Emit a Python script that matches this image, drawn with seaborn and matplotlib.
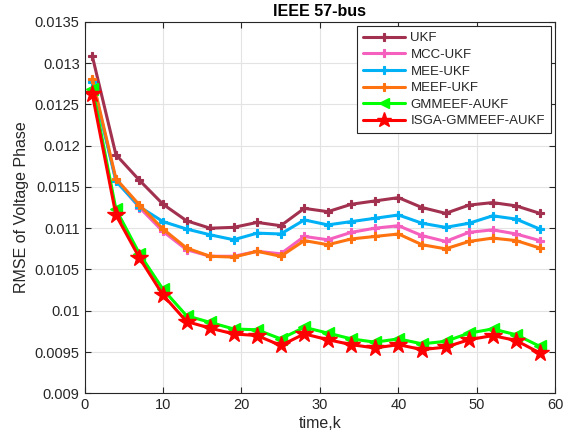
import matplotlib
matplotlib.use("Agg")
import matplotlib.pyplot as plt
import seaborn as sns
import pandas as pd

time_k = [1, 4, 7, 10, 13, 16, 19, 22, 25, 28, 31, 34, 37, 40, 43, 46, 49, 52, 55, 58]

ukf = [0.01308, 0.01189, 0.01158, 0.01129, 0.01109, 0.01100, 0.01101, 0.01107, 0.01103, 0.01124,
       0.01120, 0.01129, 0.01133, 0.01137, 0.01125, 0.01118, 0.01128, 0.01131, 0.01127, 0.01118]
mcc_ukf = [0.01279, 0.01158, 0.01125, 0.01096, 0.01074, 0.01066, 0.01066, 0.01072, 0.01069, 0.01090,
           0.01086, 0.01095, 0.01100, 0.01103, 0.01091, 0.01084, 0.01095, 0.01098, 0.01093, 0.01085]
mee_ukf = [0.01277, 0.01157, 0.01126, 0.01108, 0.01099, 0.01092, 0.01086, 0.01094, 0.01093, 0.01110,
           0.01104, 0.01108, 0.01112, 0.01116, 0.01106, 0.01101, 0.01106, 0.01115, 0.01111, 0.01099]
meef_ukf = [0.01281, 0.01160, 0.01128, 0.01099, 0.01076, 0.01066, 0.01065, 0.01072, 0.01066, 0.01085,
            0.01080, 0.01087, 0.01090, 0.01093, 0.01080, 0.01075, 0.01084, 0.01088, 0.01085, 0.01076]
gmmeef_aukf = [0.01269, 0.01123, 0.01069, 0.01026, 0.00994, 0.00986, 0.00978, 0.00977, 0.00966, 0.00980,
               0.00973, 0.00966, 0.00962, 0.00966, 0.00960, 0.00963, 0.00973, 0.00978, 0.00971, 0.00957]
isga_gmmeef_aukf = [0.01262, 0.01116, 0.01064, 0.01019, 0.00987, 0.00979, 0.00972, 0.00970, 0.00958, 0.00972,
                    0.00965, 0.00959, 0.00955, 0.00959, 0.00953, 0.00956, 0.00965, 0.00970, 0.00964, 0.00949]

labels = ["UKF", "MCC-UKF", "MEE-UKF", "MEEF-UKF", "GMMEEF-AUKF", "ISGA-GMMEEF-AUKF"]
series = [ukf, mcc_ukf, mee_ukf, meef_ukf, gmmeef_aukf, isga_gmmeef_aukf]
colors = ["#A2304F", "#F55FBE", "#00B2F5", "#FF7210", "#00FF00", "#FF0000"]
markers = ["P", "P", "P", "P", "<", "*"]
msizes = [6, 6, 6, 6, 9, 13]

xticks = [0, 10, 20, 30, 40, 50, 60]
yticks = [0.009, 0.0095, 0.01, 0.0105, 0.011, 0.0115, 0.012, 0.0125, 0.013, 0.0135]
ytick_labels = ["0.009", "0.0095", "0.01", "0.0105", "0.011", "0.0115", "0.012", "0.0125", "0.013", "0.0135"]

sns.set_theme(style="whitegrid")
plt.rcParams['font.family'] = ['Liberation Sans', 'DejaVu Sans']

fig = plt.figure(figsize=(5.75, 4.43), dpi=100)
ax = fig.add_axes([0.147, 0.112, 0.819, 0.839])

for lab, vals, c, m, ms in zip(labels, series, colors, markers, msizes):
    df = pd.DataFrame({"time": time_k, "rmse": vals})
    sns.lineplot(data=df, x="time", y="rmse", ax=ax, color=c, marker=m, markersize=ms,
                 markeredgecolor=c, markerfacecolor=c, markeredgewidth=0.8 if m == "P" else 1,
                 linewidth=2.2, label=lab)

ax.set_xlim(0, 60)
ax.set_ylim(0.009, 0.0135)
ax.set_xticks(xticks)
ax.set_xticklabels([str(t) for t in xticks])
ax.set_yticks(yticks)
ax.set_yticklabels(ytick_labels)
ax.tick_params(direction="in", length=4, width=0.8, colors="#262626", labelsize=10.5,
               top=True, right=True, bottom=True, left=True, labelcolor="#262626")
for s in ax.spines.values():
    s.set_visible(True)
    s.set_color("#262626")
    s.set_linewidth(0.8)
ax.set_facecolor("white")
ax.grid(True, color="#E3E3E3", linewidth=0.8)
ax.set_xlabel("time,k", fontsize=11.5, color="#262626", labelpad=3)
ax.set_ylabel("RMSE of Voltage Phase", fontsize=11.5, color="#262626", labelpad=4)
ax.set_title("IEEE 57-bus", fontsize=11.5, fontweight="bold", color="black", pad=4)

leg = ax.legend(loc="upper right", fontsize=9.5, frameon=True, fancybox=False,
                edgecolor="#262626", handlelength=3.2, borderpad=0.45, labelspacing=0.33,
                handletextpad=0.4, borderaxespad=0.35, markerscale=0.85)
leg.get_frame().set_linewidth(0.8)
leg.get_frame().set_alpha(1)

fig.savefig("out.png", dpi=100)
